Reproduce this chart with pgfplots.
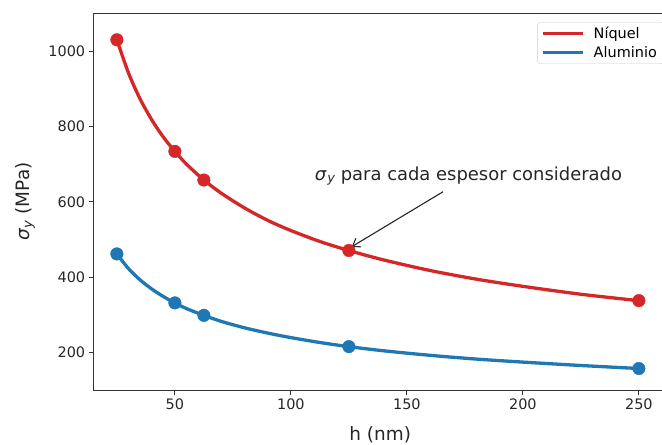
\documentclass[border=0pt]{standalone}
\usepackage{fontspec}
\setmainfont{DejaVu Sans}
\usepackage{pgfplots}
\pgfplotsset{compat=1.18}
\usetikzlibrary{arrows.meta}
\definecolor{niq}{RGB}{214,39,40}
\definecolor{alu}{RGB}{31,119,180}
\newcommand{\sy}{\textit{σ}\kern0.03em\raisebox{-0.3ex}{\scalebox{0.72}{\textit{y}}}}

\begin{document}
\begin{tikzpicture}
\begin{axis}[scale only axis,width=573bp,height=376.6bp,
  xmin=15,xmax=262,ymin=101,ymax=1100,
  xtick={50,100,150,200,250},ytick={200,400,600,800,1000},
  tick pos=left,tick align=outside,major tick length=5bp,
  tick style={black!80,line width=0.8bp},
  axis line style={black!80,line width=0.8bp},
  /pgf/number format/assume math mode=true,
  /pgf/number format/1000 sep={},
  tick label style={font=\fontsize{14.5}{17}\selectfont,text=black!85},
  label style={font=\fontsize{18.5}{22}\selectfont,text=black!85},
  xlabel={h (nm)},ylabel={\sy\ (MPa)},
  x label style={at={(axis description cs:0.5,0)},anchor=center,yshift=-45bp},
  y label style={at={(axis description cs:-0.1199,0.5)},anchor=center},
  legend cell align=left,
  legend style={at={(rel axis cs:0.774,0.977)},anchor=north west,
    draw=black!20,rounded corners=3bp,inner xsep=4bp,inner ysep=3bp,
    font=\fontsize{14.5}{17}\selectfont,row sep=2bp,
    nodes={inner xsep=3bp},
    /tikz/every odd column/.append style={column sep=6bp}},
  legend image code/.code={\draw[#1,line width=3.3bp] (0bp,0bp) -- (40bp,0bp);},
  clip=false]
% curves
\addplot[niq,line width=3.3bp,smooth] coordinates {(25,1030)(30,942)(35,873)(40,818)(45,772)(50,734)(55,700)
  (62.5,658)(70,623)(80,584)(90,551)(100,524)(112.5,495)(125,471)(140,446)(160,418)(180,395)(200,376)(225,355)(250,338)};
\addlegendentry{Níquel}
\addplot[alu,line width=3.3bp,smooth] coordinates {(25,462)(30,423)(35,393)(40,369)(45,349)(50,332)(55,317)
  (62.5,299)(70,283)(80,266)(90,252)(100,240)(112.5,227)(125,216)(140,205)(160,193)(180,183)(200,175)(225,166)(250,158)};
\addlegendentry{Aluminio}
% measured points
\addplot[only marks,mark=*,mark size=6.3bp,niq,forget plot] coordinates {(25,1030)(50,734)(62.5,658)(125,471)(250,338)};
\addplot[only marks,mark=*,mark size=6.3bp,alu,forget plot] coordinates {(25,462)(50,332)(62.5,299)(125,216)(250,158)};
% annotation
\node[anchor=base west,inner sep=0pt,font=\fontsize{18}{22}\selectfont,text=black!85] at (axis cs:110.3,658) {\sy\ para cada espesor considerado};
\draw[black!85,line width=1.1bp,-{Straight Barb[length=7bp,width=10bp]}] (axis cs:165.6,627) -- (axis cs:126.2,481);
\end{axis}
\pgfresetboundingbox
\path (current axis.south west) ++(-93.7bp,-55bp) rectangle ++(662bp,445bp);
\end{tikzpicture}
\end{document}
